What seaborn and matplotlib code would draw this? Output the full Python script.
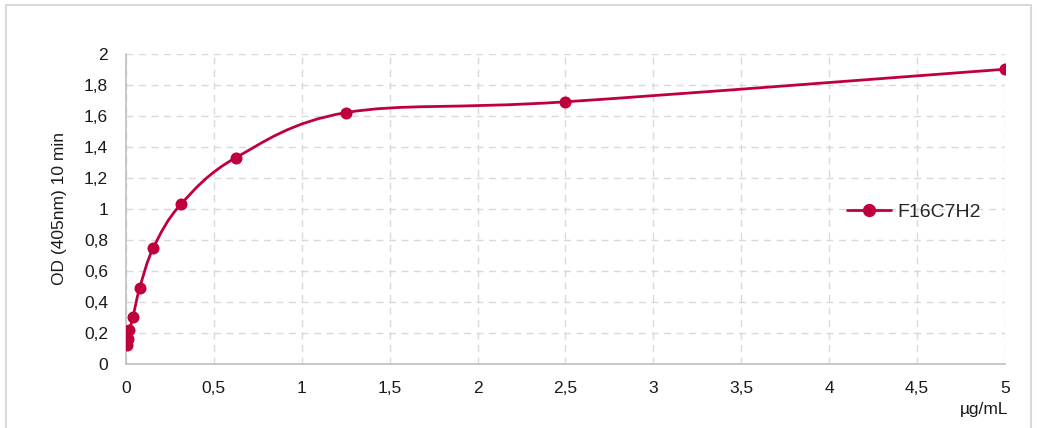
import numpy as np
import matplotlib
matplotlib.use('Agg')
import matplotlib.pyplot as plt
import seaborn as sns
import pandas as pd
from matplotlib.path import Path
from matplotlib.patches import PathPatch, Rectangle
from matplotlib.ticker import FuncFormatter

# concentration (ug/mL) and OD readings
conc = [0.0049, 0.0098, 0.0195, 0.039, 0.078, 0.156, 0.3125, 0.625, 1.25, 2.5, 5.0]
od = [0.12, 0.16, 0.22, 0.30, 0.49, 0.75, 1.03, 1.33, 1.62, 1.69, 1.90]
series_name = 'F16C7H2'

RED = '#C0003C'
TXT = '#1a1a1a'

sns.set_theme(style='white')
plt.rcParams['font.family'] = ['Liberation Sans', 'DejaVu Sans']

df = pd.DataFrame({'conc': conc, 'od': od})

fig = plt.figure(figsize=(10.37, 4.28), dpi=100)
ax = fig.add_axes([0.1215, 0.1495, 0.8475, 0.725])

# smooth line like Excel (Catmull-Rom as cubic bezier segments)
pts = np.column_stack([df['conc'], df['od']])
verts = [tuple(pts[0])]
codes = [Path.MOVETO]
n = len(pts)
for i in range(n - 1):
    p0 = pts[i - 1] if i > 0 else pts[i]
    p1 = pts[i]
    p2 = pts[i + 1]
    p3 = pts[i + 2] if i + 2 < n else pts[i + 1]
    c1 = p1 + (p2 - p0) / 6
    c2 = p2 - (p3 - p1) / 6
    verts += [tuple(c1), tuple(c2), tuple(p2)]
    codes += [Path.CURVE4] * 3
ax.add_patch(PathPatch(Path(verts, codes), facecolor='none', edgecolor=RED, lw=2.0, zorder=3))

sns.scatterplot(data=df, x='conc', y='od', ax=ax, color=RED, s=75, edgecolor=RED,
                linewidth=0, zorder=4, legend=False)

ax.set_xlim(0, 5)
ax.set_ylim(0, 2)
ax.set_xticks(np.arange(0, 5.01, 0.5))
ax.set_yticks(np.arange(0, 2.01, 0.2))
fmt = FuncFormatter(lambda v, p: ('%g' % round(v, 2)).replace('.', ','))
ax.xaxis.set_major_formatter(fmt)
ax.yaxis.set_major_formatter(fmt)
ax.tick_params(axis='both', labelsize=12.5, colors=TXT, length=0)
ax.tick_params(axis='y', pad=13)
ax.tick_params(axis='x', pad=12)

ax.grid(True, color='#d9d9d9', linestyle=(0, (5, 4)), linewidth=1)
for s in ['top', 'right']:
    ax.spines[s].set_visible(False)
for s in ['left', 'bottom']:
    ax.spines[s].set_color('#bfbfbf')
    ax.spines[s].set_linewidth(1.2)

ax.set_xlabel('')
ax.set_ylabel('OD (405nm) 10 min', fontsize=12.5, color=TXT, labelpad=12)
fig.text(0.972, 0.025, 'µg/mL', ha='right', va='bottom', fontsize=12.5, color=TXT)

handle = plt.Line2D([], [], color=RED, lw=2.0, marker='o', markersize=8.5)
leg = ax.legend([handle], [series_name], loc='center left', bbox_to_anchor=(0.8, 0.49),
                frameon=False, fontsize=14, handlelength=2.3, handletextpad=0.3)

fig.patches.append(Rectangle((0.006, -0.05), 0.988, 1.038, transform=fig.transFigure,
                             fill=False, edgecolor='#d9d9d9', linewidth=1.5))

plt.savefig('out.png', dpi=100)
plt.close()
